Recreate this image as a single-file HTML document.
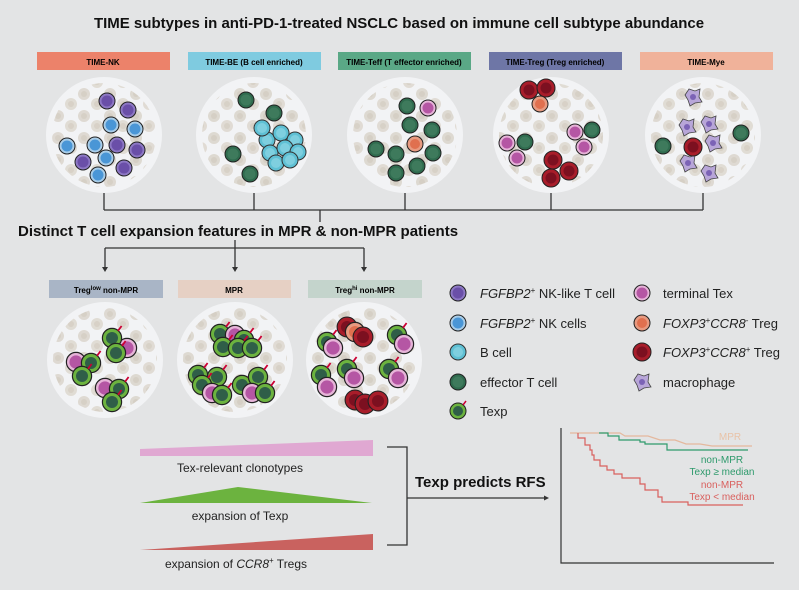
<!DOCTYPE html><html><head><style>body{margin:0;background:#e3e4e5}svg{display:block}text{font-family:"Liberation Sans",sans-serif}</style></head><body>
<svg width="799" height="590" viewBox="0 0 799 590" xmlns="http://www.w3.org/2000/svg">
<defs>
<pattern id="bg" width="26" height="22" patternUnits="userSpaceOnUse">
<circle cx="6" cy="6" r="6" fill="#d9d3c9"/><circle cx="19" cy="16" r="6" fill="#dcd6cc"/><circle cx="6" cy="6" r="3" fill="#cfc7ba"/><circle cx="19" cy="16" r="3" fill="#d1c9bc"/></pattern>
<g id="tc"><circle r="8" fill="#2f6b4e" stroke="#222" stroke-width="1"/><circle r="5.5" fill="#3e7a5c"/></g>
<g id="tx"><circle r="8" fill="#6cb33f" stroke="#222" stroke-width="1"/><circle r="5" fill="#2f5e48"/><line x1="5" y1="-6" x2="8" y2="-10" stroke="#c03" stroke-width="1.5"/></g>
<g id="nk"><circle r="8" fill="#8d78c4" stroke="#222" stroke-width="1"/><circle r="5.5" fill="#6a4fa8"/></g>
<g id="nc"><circle r="8" fill="#a9cde8" stroke="#222" stroke-width="1"/><circle r="5.5" fill="#4a96d6"/></g>
<g id="bc"><circle r="8" fill="#5fc0d4" stroke="#333" stroke-width="1"/><circle r="5" fill="#7fcfdf"/></g>
<g id="te"><circle r="8" fill="#e6b4d8" stroke="#222" stroke-width="1"/><circle r="5.5" fill="#b556a4"/></g>
<g id="tr"><circle r="8" fill="#e79a80" stroke="#222" stroke-width="1"/><circle r="5" fill="#e0704f"/></g>
<g id="rr"><circle r="9" fill="#a81d2a" stroke="#222" stroke-width="1"/><circle r="5.5" fill="#7c1020"/></g>
<g id="mp"><path d="M-8,-2 L-4,-8 L2,-6 L7,-8 L6,0 L9,5 L2,6 L-3,9 L-5,3 Z" fill="#b8a6d8" stroke="#444" stroke-width="0.8"/><circle r="3" fill="#7c63b6"/></g>
<g id="Tx"><use href="#tx" transform="scale(1.2)"/></g>
<g id="Te"><use href="#te" transform="scale(1.2)"/></g>
<g id="Tr"><use href="#tr" transform="scale(1.2)"/></g>
<g id="Rr"><use href="#rr" transform="scale(1.1)"/></g>
</defs>
<text x="399" y="28" text-anchor="middle" font-size="15" font-weight="bold" fill="#111">TIME subtypes in anti-PD-1-treated NSCLC based on immune cell subtype abundance</text>
<rect x="37" y="52" width="133" height="18" fill="#ec826a"/><text x="103" y="65" text-anchor="middle" font-size="8" font-weight="bold">TIME-NK</text>
<rect x="188" y="52" width="133" height="18" fill="#7fcbe0"/><text x="254" y="65" text-anchor="middle" font-size="8" font-weight="bold">TIME-BE (B cell enriched)</text>
<rect x="338" y="52" width="133" height="18" fill="#5aa886"/><text x="404" y="65" text-anchor="middle" font-size="8" font-weight="bold">TIME-Teff (T effector enriched)</text>
<rect x="489" y="52" width="133" height="18" fill="#6e76a6"/><text x="555" y="65" text-anchor="middle" font-size="8" font-weight="bold">TIME-Treg (Treg enriched)</text>
<rect x="640" y="52" width="133" height="18" fill="#f0b29a"/><text x="706" y="65" text-anchor="middle" font-size="8" font-weight="bold">TIME-Mye</text>
<g fill="#f2f3f5"><circle cx="104" cy="135" r="58"/><circle cx="254" cy="135" r="58"/><circle cx="405" cy="135" r="58"/><circle cx="551" cy="135" r="58"/><circle cx="703" cy="135" r="58"/>
<circle cx="105" cy="360" r="58"/><circle cx="235" cy="360" r="58"/><circle cx="364" cy="360" r="58"/></g>
<g fill="url(#bg)" opacity="0.8"><circle cx="104" cy="135" r="52"/><circle cx="254" cy="135" r="52"/><circle cx="405" cy="135" r="52"/><circle cx="551" cy="135" r="52"/><circle cx="703" cy="135" r="52"/>
<circle cx="105" cy="360" r="52"/><circle cx="235" cy="360" r="52"/><circle cx="364" cy="360" r="52"/></g>
<use href="#nk" x="107" y="101"/><use href="#nk" x="128" y="110"/><use href="#nc" x="111" y="125"/><use href="#nc" x="135" y="129"/><use href="#nc" x="67" y="146"/><use href="#nc" x="95" y="145"/><use href="#nk" x="117" y="145"/><use href="#nk" x="137" y="150"/><use href="#nk" x="83" y="162"/><use href="#nc" x="106" y="158"/><use href="#nk" x="124" y="168"/><use href="#nc" x="98" y="175"/>
<use href="#tc" x="246" y="100"/><use href="#tc" x="274" y="113"/><use href="#tc" x="233" y="154"/><use href="#tc" x="250" y="174"/>
<use href="#bc" x="267" y="140"/><use href="#bc" x="281" y="133"/><use href="#bc" x="295" y="140"/><use href="#bc" x="270" y="153"/><use href="#bc" x="285" y="148"/><use href="#bc" x="298" y="152"/><use href="#bc" x="276" y="163"/><use href="#bc" x="290" y="160"/><use href="#bc" x="262" y="128"/>
<use href="#tc" x="407" y="106"/><use href="#te" x="428" y="108"/><use href="#tc" x="410" y="125"/><use href="#tc" x="432" y="130"/><use href="#tr" x="415" y="144"/><use href="#tc" x="376" y="149"/><use href="#tc" x="396" y="154"/><use href="#tc" x="433" y="153"/><use href="#tc" x="417" y="166"/><use href="#tc" x="396" y="173"/>
<use href="#rr" x="529" y="90"/><use href="#rr" x="546" y="88"/><use href="#tr" x="540" y="104"/><use href="#te" x="507" y="143"/><use href="#tc" x="525" y="142"/><use href="#te" x="517" y="158"/><use href="#te" x="575" y="132"/><use href="#tc" x="592" y="130"/><use href="#te" x="584" y="147"/><use href="#rr" x="553" y="160"/><use href="#rr" x="569" y="171"/><use href="#rr" x="551" y="178"/>
<use href="#mp" x="693" y="97"/><use href="#mp" x="687" y="127"/><use href="#mp" x="709" y="124"/><use href="#mp" x="713" y="143"/><use href="#mp" x="688" y="163"/><use href="#mp" x="709" y="173"/><use href="#tc" x="663" y="146"/><use href="#rr" x="693" y="147"/><use href="#tc" x="741" y="133"/>
<g stroke="#333" stroke-width="1.3" fill="none"><path d="M104,193V210M254,193V210M405,193V210M551,193V210M703,193V210M104,210H703M320,210V222"/>
<path d="M105,248H364M105,248V268M235,248V268M364,248V268M235,240V248"/></g>
<g fill="#333"><path d="M105,272l-3,-5h6z M235,272l-3,-5h6z M364,272l-3,-5h6z"/></g>
<text x="18" y="236" font-size="15" font-weight="bold" fill="#111">Distinct T cell expansion features in MPR &amp; non-MPR patients</text>
<rect x="49" y="280" width="114" height="18" fill="#a9b5c6"/><text x="106" y="293" text-anchor="middle" font-size="8" font-weight="bold">Treg<tspan font-size="6" dy="-3">low</tspan><tspan dy="3"> non-MPR</tspan></text>
<rect x="178" y="280" width="113" height="18" fill="#e6d0c4"/><text x="234" y="293" text-anchor="middle" font-size="8" font-weight="bold">MPR</text>
<rect x="308" y="280" width="114" height="18" fill="#c4d4cc"/><text x="365" y="293" text-anchor="middle" font-size="8" font-weight="bold">Treg<tspan font-size="6" dy="-3">hi</tspan><tspan dy="3"> non-MPR</tspan></text>
<use href="#Te" x="127" y="348"/><use href="#Tx" x="112" y="338"/><use href="#Tx" x="116" y="353"/><use href="#Te" x="76" y="362"/><use href="#Tx" x="91" y="363"/><use href="#Tx" x="82" y="376"/><use href="#Te" x="105" y="388"/><use href="#Tx" x="119" y="389"/><use href="#Tx" x="112" y="402"/>
<use href="#Tx" x="220" y="334"/><use href="#Te" x="235" y="335"/><use href="#Tx" x="244" y="340"/><use href="#Tx" x="223" y="347"/><use href="#Tx" x="238" y="348"/><use href="#Tx" x="252" y="348"/><use href="#Tx" x="198" y="375"/><use href="#Tx" x="217" y="377"/><use href="#Tx" x="202" y="385"/><use href="#Te" x="212" y="393"/><use href="#Tx" x="222" y="395"/><use href="#Tx" x="242" y="385"/><use href="#Tx" x="258" y="377"/><use href="#Te" x="252" y="393"/><use href="#Tx" x="265" y="393"/>
<use href="#Rr" x="347" y="327"/><use href="#Tr" x="355" y="332"/><use href="#Rr" x="363" y="337"/><use href="#Tx" x="327" y="342"/><use href="#Te" x="333" y="348"/><use href="#Tx" x="397" y="335"/><use href="#Te" x="404" y="344"/><use href="#Tx" x="321" y="375"/><use href="#Te" x="327" y="387"/><use href="#Tx" x="347" y="369"/><use href="#Te" x="354" y="378"/><use href="#Tx" x="389" y="369"/><use href="#Te" x="398" y="378"/><use href="#Rr" x="355" y="400"/><use href="#Rr" x="365" y="404"/><use href="#Rr" x="378" y="401"/>
<g font-size="13" fill="#222">
<use href="#nk" x="458" y="293"/><text x="480" y="298"><tspan font-style="italic">FGFBP2</tspan><tspan font-size="8" dy="-5">+</tspan><tspan dy="5"> NK-like T cell</tspan></text>
<use href="#nc" x="458" y="323"/><text x="480" y="328"><tspan font-style="italic">FGFBP2</tspan><tspan font-size="8" dy="-5">+</tspan><tspan dy="5"> NK cells</tspan></text>
<use href="#bc" x="458" y="352"/><text x="480" y="357">B cell</text>
<use href="#tc" x="458" y="382"/><text x="480" y="387">effector T cell</text>
<use href="#tx" x="458" y="411"/><text x="480" y="416">Texp</text>
<use href="#te" x="642" y="293"/><text x="663" y="298">terminal Tex</text>
<use href="#tr" x="642" y="323"/><text x="663" y="328"><tspan font-style="italic">FOXP3</tspan><tspan font-size="8" dy="-5">+</tspan><tspan dy="5" font-style="italic">CCR8</tspan><tspan font-size="8" dy="-5">-</tspan><tspan dy="5"> Treg</tspan></text>
<use href="#rr" x="642" y="352"/><text x="663" y="357"><tspan font-style="italic">FOXP3</tspan><tspan font-size="8" dy="-5">+</tspan><tspan dy="5" font-style="italic">CCR8</tspan><tspan font-size="8" dy="-5">+</tspan><tspan dy="5"> Treg</tspan></text>
<use href="#mp" x="642" y="382"/><text x="663" y="387">macrophage</text>
</g>
<path d="M140,449 L373,440 L373,456 L140,456Z" fill="#e0a8d2"/>
<text x="240" y="472" text-anchor="middle" font-size="12" fill="#222">Tex-relevant clonotypes</text>
<path d="M140,503 L238,487 L372,503Z" fill="#6cb33f"/>
<text x="240" y="520" text-anchor="middle" font-size="12" fill="#222">expansion of Texp</text>
<path d="M140,550 L373,534 L373,550Z" fill="#c9625f"/>
<text x="236" y="568" text-anchor="middle" font-size="12" fill="#222"><tspan>expansion of </tspan><tspan font-style="italic">CCR8</tspan><tspan font-size="8" dy="-5">+</tspan><tspan dy="5"> Tregs</tspan></text>
<g stroke="#333" stroke-width="1.3" fill="none"><path d="M387,447H407V545H387M407,498H545"/></g>
<path d="M549,498l-5,-2.5v5z" fill="#333"/>
<text x="415" y="487" font-size="15" font-weight="bold" fill="#111">Texp predicts RFS</text>
<path d="M561,428V563H774" stroke="#333" stroke-width="1.2" fill="none"/>
<path d="M570,433H620L625,436H648L660,440H675L686,444H700L712,446H752" stroke="#e4b89e" stroke-width="1.2" fill="none"/>
<path d="M599,433H608V436H619V440H640V442H645V444H667V450H748" stroke="#2e9a6c" stroke-width="1.2" fill="none"/>
<path d="M578,433V438H585V445H590V450H592V455H594V460H600V466H607V470H614V474H622V478H640V484H645V490H658V497H662V502H688V505H743" stroke="#d9605e" stroke-width="1.2" fill="none"/>
<g font-size="10" text-anchor="middle"><text x="730" y="440" fill="#e9c3a8">MPR</text><text x="722" y="463" fill="#2e9a6c">non-MPR</text><text x="722" y="475" fill="#2e9a6c">Texp ≥ median</text><text x="722" y="488" fill="#d9605e">non-MPR</text><text x="722" y="500" fill="#d9605e">Texp &lt; median</text></g>
</svg></body></html>
